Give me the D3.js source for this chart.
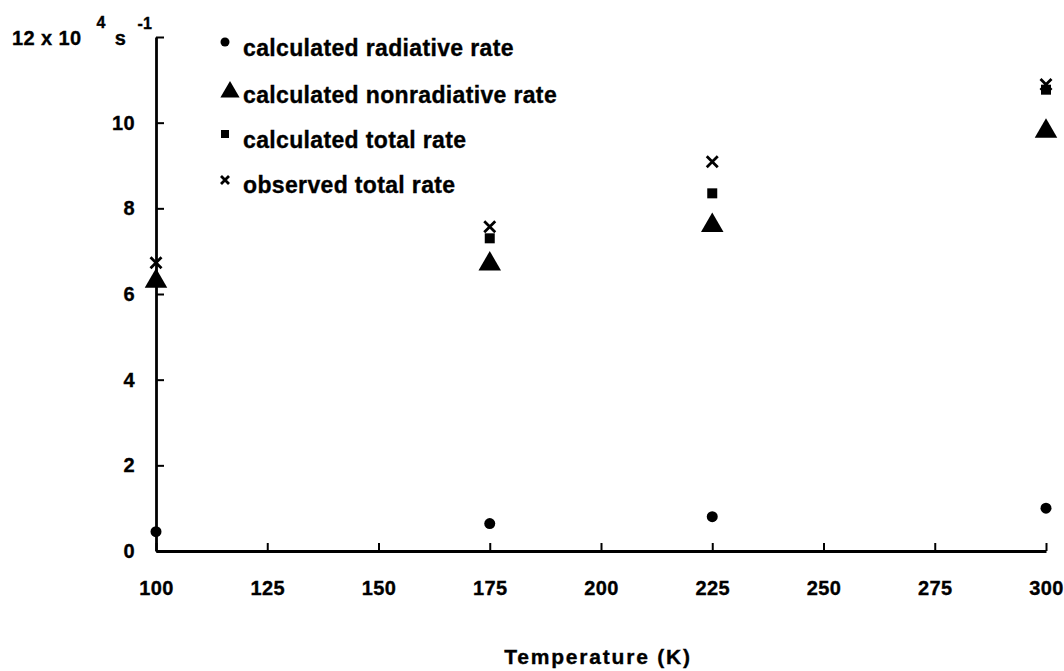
<!DOCTYPE html>
<html>
<head>
<meta charset="utf-8">
<script src="https://cdn.jsdelivr.net/npm/d3@7"></script>
<style>
  body { margin: 0; background: #fff; }
  text { font-family: "Liberation Sans", Arial, Helvetica, sans-serif; font-weight: bold; fill: #000; stroke: #000; stroke-width: 0.35px; }
</style>
</head>
<body>
<div id="chart"></div>
<script>
// temperatures (K)
const temps = [100, 175, 225, 300];
// rates, 10^4 s^-1
const radiative = [0.45, 0.64, 0.8, 1.0];
const nonradiative = [6.3, 6.7, 7.6, 9.8];
const calcTotal = [null, 7.3, 8.35, 10.77];
const observedTotal = [6.73, 7.57, 9.09, 10.89];

const xTicks = [100, 125, 150, 175, 200, 225, 250, 275, 300];
const yTicks = [0, 2, 4, 6, 8, 10, 12];

const legendLabels = ['calculated radiative rate', 'calculated nonradiative rate', 'calculated total rate', 'observed total rate'];

const W = 1064, H = 671;
const svg = d3.select('#chart').append('svg')
    .attr('width', W)
    .attr('height', H);

const x = d3.scaleLinear().domain([100, 300]).range([156, 1046]);
const y = d3.scaleLinear().domain([0, 12]).range([551, 37]);

// x axis (ticks point inward)
const xAxis = svg.append('g')
    .attr('transform', `translate(0,${y(0)})`)
    .call(d3.axisBottom(x).tickValues(xTicks).tickSize(-8).tickSizeOuter(0));
xAxis.select('.domain').attr('stroke-width', 2.8);
xAxis.selectAll('.tick line').attr('stroke-width', 2);
xAxis.selectAll('.tick text')
    .attr('y', 37)
    .attr('dy', '0.35em')
    .style('font-size', '20px')
    .style('letter-spacing', '0.4px');

// y axis
const yAxis = svg.append('g')
    .attr('transform', `translate(${x(100)},0)`)
    .call(d3.axisLeft(y).tickValues(yTicks).tickSize(-8).tickSizeOuter(0)
        .tickFormat(d => d === 12 ? '' : d));
yAxis.select('.domain').attr('stroke-width', 2.8);
yAxis.selectAll('.tick line').attr('stroke-width', 2);
yAxis.selectAll('.tick text')
    .attr('x', -21)
    .style('font-size', '20px')
    .style('letter-spacing', '0.4px');

// unit label at top of y axis
const unit = svg.append('text')
    .attr('x', 12)
    .attr('y', y(12) + 8)
    .style('font-size', '20px')
    .style('letter-spacing', '0.4px');
unit.append('tspan').text('12 x 10');
unit.append('tspan').attr('dx', 15).attr('dy', -17).style('font-size', '16px').text('4');
unit.append('tspan').attr('dx', 9).attr('dy', 17).text('s');
unit.append('tspan').attr('dx', 11).attr('dy', -16).style('font-size', '16px').text('-1');

// axis title
svg.append('text')
    .attr('x', 598)
    .attr('y', 657)
    .attr('dy', '0.35em')
    .attr('text-anchor', 'middle')
    .style('font-size', '21px')
    .style('letter-spacing', '1.8px')
    .text('Temperature (K)');

// markers
const triangle = d3.symbol().type(d3.symbolTriangle);
function cross(g, cx, cy, s) {
    g.append('path')
        .attr('d', `M${cx - s},${cy - s}L${cx + s},${cy + s}M${cx - s},${cy + s}L${cx + s},${cy - s}`)
        .attr('stroke', '#000')
        .attr('stroke-width', 2.8)
        .attr('fill', 'none');
}

const marks = svg.append('g');

// nonradiative (triangles)
temps.forEach((t, i) => {
    if (nonradiative[i] == null) return;
    marks.append('path')
        .attr('d', triangle.size(220)())
        .attr('transform', `translate(${x(t)},${y(nonradiative[i])})`)
        .attr('fill', '#000');
});

// calculated total (squares)
temps.forEach((t, i) => {
    if (calcTotal[i] == null) return;
    marks.append('rect')
        .attr('x', x(t) - 5)
        .attr('y', y(calcTotal[i]) - 5)
        .attr('width', 10)
        .attr('height', 10)
        .attr('fill', '#000');
});

// observed total (crosses)
temps.forEach((t, i) => {
    if (observedTotal[i] == null) return;
    cross(marks, x(t), y(observedTotal[i]), 5.5);
});

// radiative (dots)
temps.forEach((t, i) => {
    marks.append('circle')
        .attr('cx', x(t))
        .attr('cy', y(radiative[i]))
        .attr('r', 5.5)
        .attr('fill', '#000');
});

// legend
const legendY = [48, 95, 140, 185];
const legend = svg.append('g');
legendLabels.forEach((lab, i) => {
    const ly = legendY[i];
    if (i === 0) {
        legend.append('circle').attr('cx', 225).attr('cy', ly - 6).attr('r', 4.5).attr('fill', '#000');
    } else if (i === 1) {
        legend.append('path').attr('d', triangle.size(160)()).attr('transform', `translate(230,${ly - 3})`).attr('fill', '#000');
    } else if (i === 2) {
        legend.append('rect').attr('x', 221).attr('y', ly - 10).attr('width', 8).attr('height', 8).attr('fill', '#000');
    } else {
        cross(legend, 225, ly - 5, 4);
    }
    legend.append('text')
        .attr('x', 243)
        .attr('y', ly)
        .attr('dy', '0.35em')
        .style('font-size', '23px')
        .style('letter-spacing', '0.35px')
        .text(lab);
});
</script>
</body>
</html>
